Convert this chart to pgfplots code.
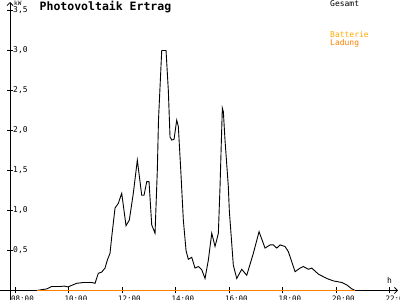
\documentclass[border=0pt]{standalone}
\usepackage{fontspec}
\setmainfont{DejaVu Sans Mono}
\usepackage{pgfplots}
\pgfplotsset{compat=1.18}
\usetikzlibrary{arrows.meta}
\definecolor{ladeline}{HTML}{FF8000}
\definecolor{batt}{HTML}{FFAA00}
\definecolor{ladung}{HTML}{FF7F00}
\begin{document}
\begin{tikzpicture}
\useasboundingbox (-10pt,-9.5pt) rectangle (390pt,290.5pt);
\begin{axis}[
  scale only axis, width=388pt, height=288.5pt,
  at={(0,0)}, anchor=south west,
  xmin=7.813, xmax=22.32, ymin=0, ymax=3.606,
  clip=false,
  axis x line=bottom, axis y line=left,
  x axis line style={-{Straight Barb[length=3pt,width=6pt]}, shorten <=-10pt},
  y axis line style={-{Straight Barb[length=3pt,width=6pt]}, shorten <=-9.5pt},
  tick align=center, major tick length=6pt,
  tick style={black, line width=0.8pt},
  xtick={8,10,12,14,16,18,20,22},
  xticklabels={08:00,10:00,12:00,14:00,16:00,18:00,20:00,22:00},
  xticklabel style={font=\fontsize{7.5}{8}\selectfont, anchor=north west, inner sep=0pt, xshift=-4pt, yshift=-1.8pt},
  ytick={0.5,1,1.5,2,2.5,3,3.5},
  yticklabel style={font=\fontsize{8}{8}\selectfont, anchor=west, inner sep=0pt, xshift=6pt},
  /pgf/number format/assume math mode=true,
  /pgf/number format/use comma, /pgf/number format/fixed, /pgf/number format/fixed zerofill, /pgf/number format/precision=1,
  axis line style={line width=0.8pt},
]
\addplot[black, line width=0.9pt] table {
8.81 0
9.185 0.02
9.372 0.05
9.683 0.05
9.85 0.055
9.982 0.045
10.307 0.09
10.554 0.10
10.868 0.10
10.992 0.09
11.115 0.215
11.242 0.23
11.366 0.28
11.452 0.38
11.553 0.465
11.616 0.67
11.740 1.03
11.863 1.09
11.990 1.215
12.151 0.81
12.274 0.88
12.424 1.215
12.574 1.63
12.738 1.19
12.824 1.19
12.925 1.36
13.011 1.36
13.112 0.82
13.236 0.715
13.322 1.51
13.365 2.13
13.486 3.0
13.647 3.0
13.733 2.5
13.796 1.92
13.860 1.88
13.946 1.89
14.047 2.13
14.107 2.05
14.197 1.51
14.294 0.88
14.395 0.5
14.481 0.39
14.608 0.415
14.731 0.28
14.855 0.30
14.982 0.26
15.105 0.15
15.229 0.38
15.356 0.715
15.479 0.55
15.603 0.715
15.666 1.30
15.752 2.28
15.790 2.235
15.852 1.88
15.976 1.30
16.013 1.0
16.162 0.32
16.290 0.15
16.477 0.265
16.664 0.19
16.912 0.465
17.125 0.735
17.349 0.53
17.536 0.57
17.660 0.57
17.787 0.53
17.910 0.57
18.097 0.55
18.221 0.485
18.471 0.235
18.658 0.28
18.782 0.30
18.969 0.265
19.096 0.28
19.343 0.205
19.657 0.15
19.903 0.12
20.218 0.10
20.405 0.07
20.592 0.02
20.715 0
};
\addplot[ladeline, line width=1.6pt] table {
8.81 0
20.715 0
};
\end{axis}
\node[anchor=base west, inner sep=0pt, font=\fontsize{11.5}{12}\selectfont\bfseries] at (29.5pt,279.5pt) {Photovoltaik Ertrag};
\node[anchor=base west, inner sep=0pt, font=\fontsize{6}{6}\selectfont] at (4pt,284.5pt) {kW};
\node[anchor=base west, inner sep=0pt, font=\fontsize{8}{8}\selectfont] at (320pt,283.5pt) {Gesamt};
\node[anchor=base west, inner sep=0pt, font=\fontsize{8}{8}\selectfont, text=batt] at (320pt,252.5pt) {Batterie};
\node[anchor=base west, inner sep=0pt, font=\fontsize{8}{8}\selectfont, text=ladung] at (320pt,245pt) {Ladung};
\node[anchor=base west, inner sep=0pt, font=\fontsize{8}{8}\selectfont] at (377pt,6.5pt) {h};
\end{tikzpicture}
\end{document}
